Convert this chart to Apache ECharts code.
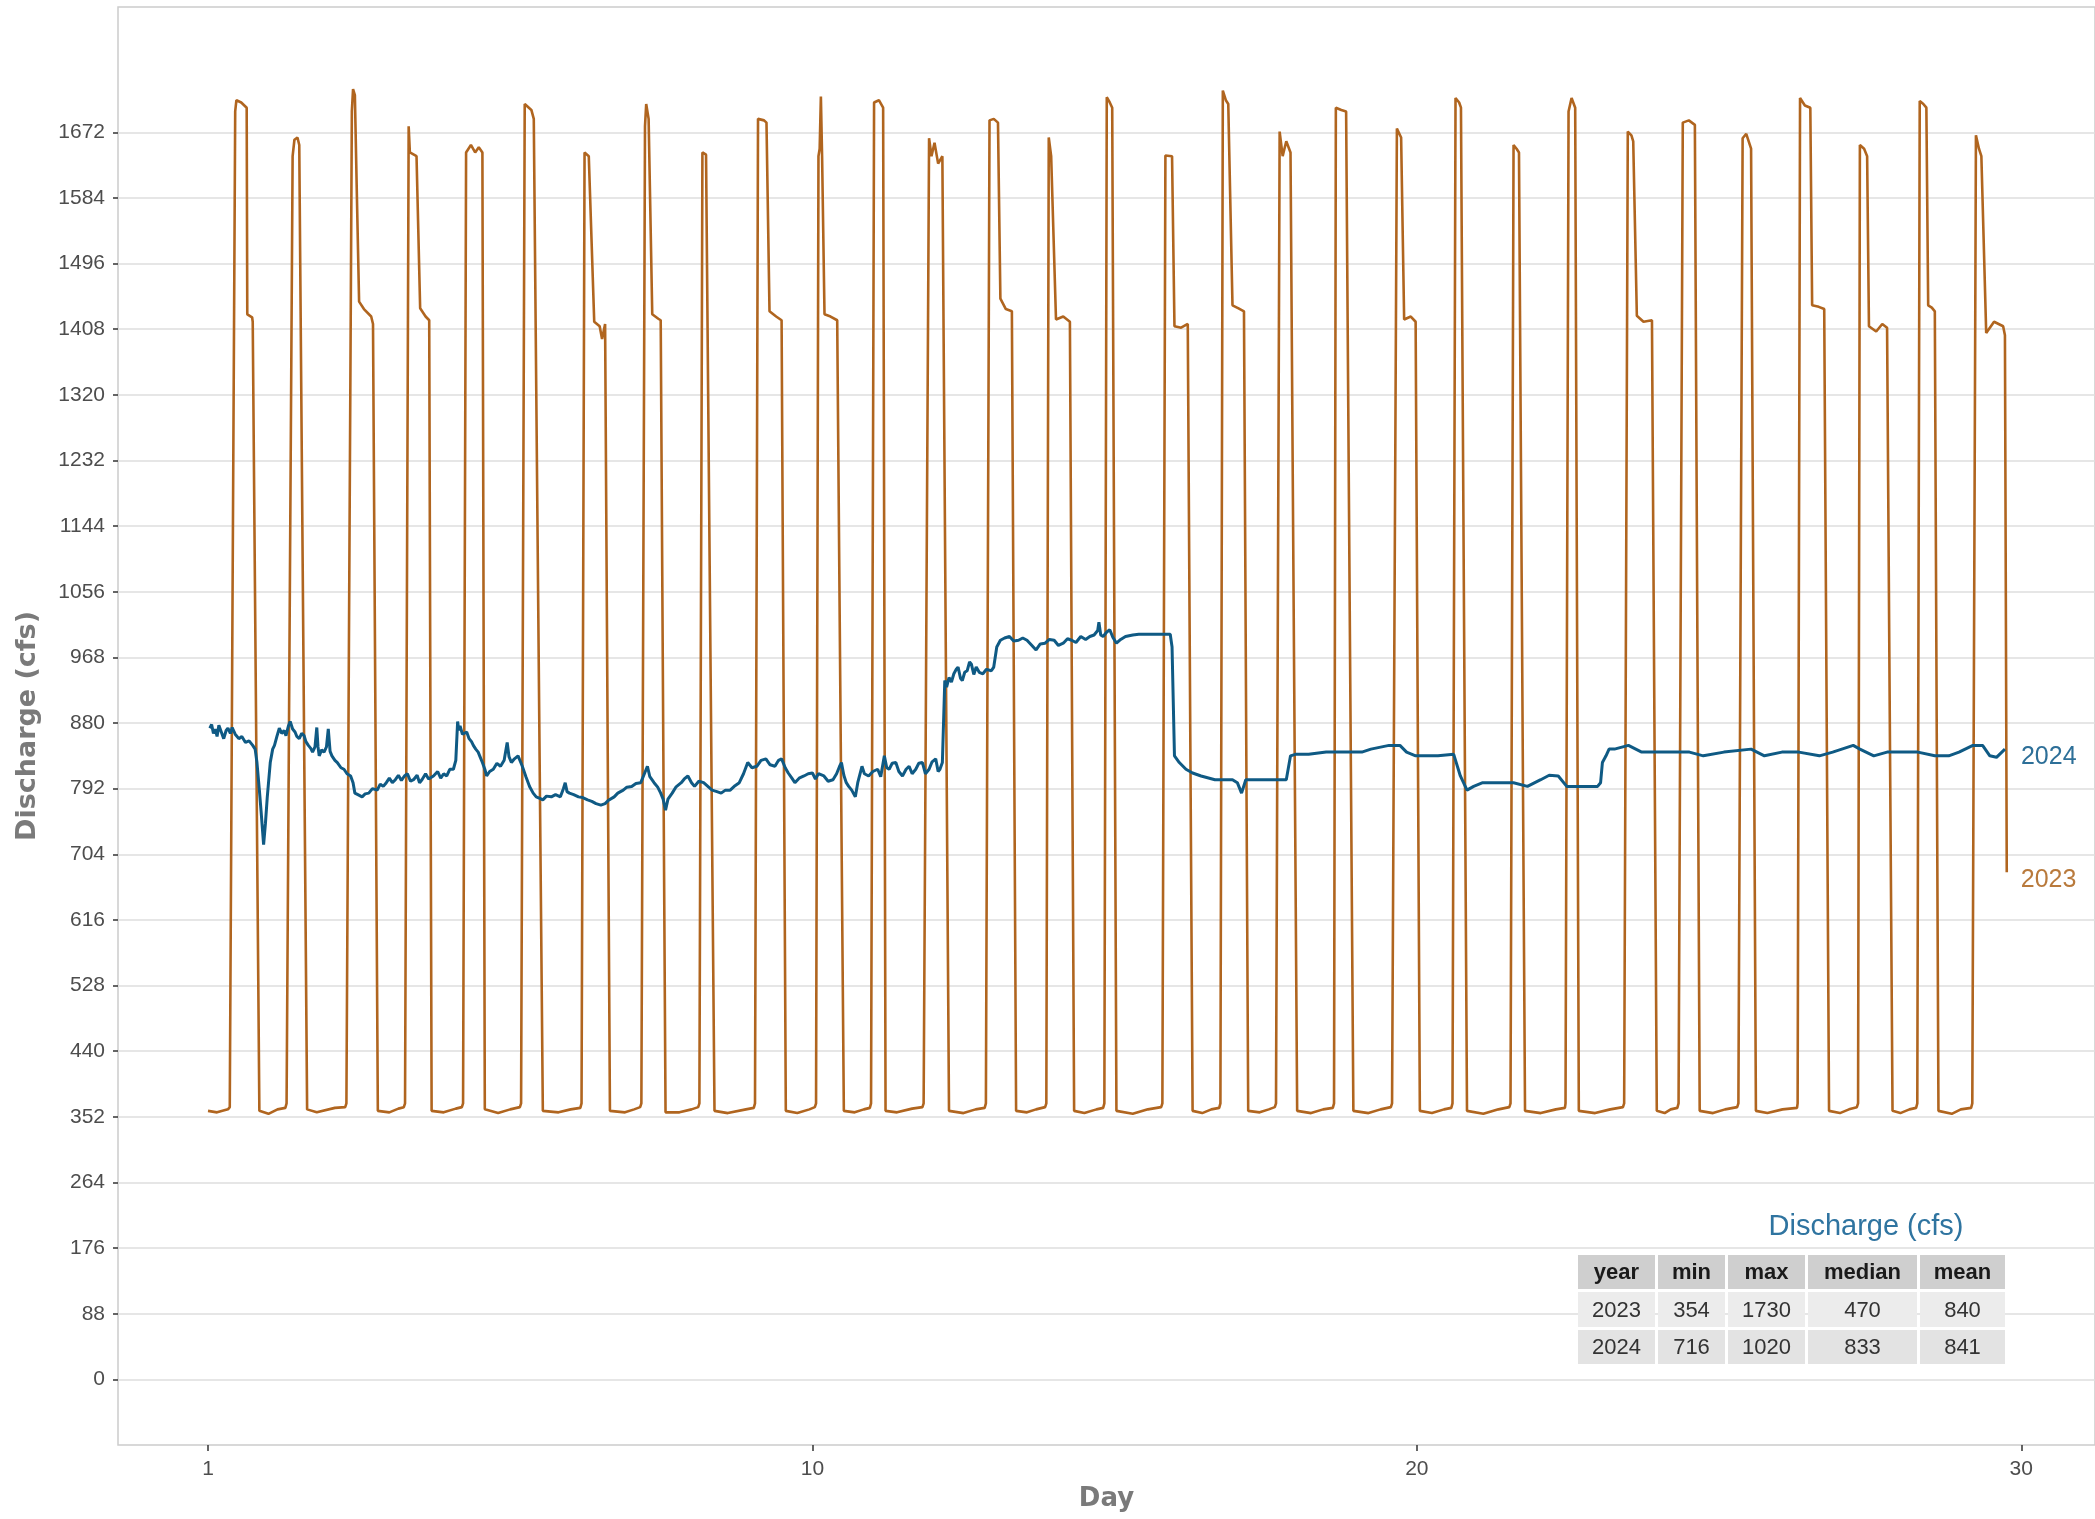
<!DOCTYPE html>
<html>
<head>
<meta charset="utf-8">
<script src="https://cdn.jsdelivr.net/npm/echarts@6/dist/echarts.min.js"></script>
<style>
html,body{margin:0;padding:0;background:#fff;}
#c{width:2095px;height:1519px;}
</style>
</head>
<body>
<div id="c"></div>
<script>
// ---------------- DATA ----------------
// x = elapsed days (tick "1" sits at 0)
const xTickValues = [0, 10, 20, 30];
const xTickLabels = ['1', '10', '20', '30'];
const yTickValues = [0, 88, 176, 264, 352, 440, 528, 616, 704, 792, 880, 968, 1056, 1144, 1232, 1320, 1408, 1496, 1584, 1672];

const seriesNames = ['2023', '2024'];

const day2023 = [
  0.00,0.15,0.33,
  0.36,0.45,0.47,0.55,0.64,0.65,0.73,0.74,0.85,
  1.00,1.15,1.28,
  1.30,1.40,1.43,1.48,1.51,1.64,
  1.80,2.10,2.27,
  2.29,2.38,2.40,2.43,2.46,2.50,2.58,2.70,2.73,2.81,
  3.00,3.15,3.24,
  3.26,3.32,3.34,3.45,3.51,3.60,3.66,3.70,
  3.90,4.10,4.20,
  4.22,4.27,4.35,4.42,4.48,4.54,4.58,
  4.80,5.00,5.16,
  5.18,5.24,5.26,5.35,5.39,5.54,
  5.80,6.00,6.16,
  6.18,6.23,6.30,6.39,6.48,6.52,6.57,6.65,
  6.90,7.05,7.15,
  7.17,7.23,7.25,7.29,7.35,7.45,7.49,7.57,
  7.80,8.00,8.11,
  8.13,8.18,8.24,8.27,8.38,
  8.60,8.90,9.03,
  9.05,9.10,9.20,9.24,9.29,9.40,9.49,9.56,
  9.75,9.95,10.04,
  10.06,10.10,10.12,10.14,10.16,10.20,10.30,10.41,10.52,
  10.70,10.85,10.95,
  10.97,11.02,11.10,11.17,11.21,
  11.40,11.65,11.82,
  11.84,11.93,11.97,12.02,12.08,12.15,12.26,
  12.50,12.70,12.85,
  12.87,12.93,13.00,13.07,13.11,13.20,13.30,13.37,
  13.55,13.70,13.85,
  13.87,13.91,13.95,14.03,14.15,14.26,14.33,
  14.50,14.70,14.81,
  14.83,14.87,14.92,14.96,15.03,
  15.30,15.55,15.77,
  15.79,15.84,15.95,15.99,16.10,16.21,16.29,
  16.45,16.60,16.73,
  16.75,16.79,16.84,16.88,16.95,17.05,17.14,17.21,
  17.40,17.55,17.65,
  17.67,17.73,17.78,17.84,17.91,18.02,
  18.25,18.45,18.61,
  18.63,18.66,18.75,18.83,18.95,
  19.20,19.40,19.57,
  19.59,19.67,19.74,19.79,19.90,19.98,20.05,
  20.25,20.45,20.57,
  20.59,20.64,20.70,20.73,20.83,
  21.10,21.35,21.53,
  21.55,21.60,21.65,21.69,21.79,
  22.05,22.30,22.45,
  22.46,22.51,22.56,22.62,22.68,
  22.95,23.20,23.41,
  23.43,23.49,23.55,23.58,23.64,23.75,23.89,23.97,
  24.10,24.20,24.31,
  24.33,24.40,24.50,24.60,24.68,
  24.90,25.10,25.30,
  25.32,25.39,25.45,25.53,25.61,
  25.80,26.05,26.29,
  26.30,26.34,26.42,26.51,26.54,26.65,26.74,26.82,
  27.00,27.15,27.28,
  27.30,27.33,27.40,27.45,27.48,27.60,27.70,27.78,27.87,
  28.00,28.15,28.26,
  28.28,28.32,28.38,28.43,28.46,28.52,28.57,28.63,
  28.85,29.00,29.17,
  29.19,29.25,29.30,29.34,29.42,29.55,29.70,29.73,29.76
];
const flow2023 = [
  360,358,362,
  365,1700,1715,1712,1705,1428,1424,1418,360,
  356,362,364,
  370,1640,1662,1665,1655,362,
  358,364,365,
  370,1700,1730,1722,1600,1445,1435,1425,1415,360,
  358,363,365,
  370,1680,1645,1640,1436,1425,1420,360,
  358,363,365,
  370,1645,1655,1645,1652,1645,362,
  357,362,365,
  370,1710,1712,1702,1690,360,
  358,362,364,
  370,1645,1640,1418,1412,1395,1415,360,
  358,362,365,
  370,1680,1710,1690,1428,1422,1420,358,
  358,362,365,
  370,1645,1642,1640,360,
  357,362,364,
  370,1690,1688,1685,1432,1425,1420,360,
  357,362,365,
  370,1640,1650,1720,1640,1428,1425,1420,360,
  358,362,364,
  370,1712,1715,1705,360,
  358,363,365,
  370,1664,1640,1658,1630,1640,360,
  357,362,364,
  370,1688,1690,1685,1449,1435,1432,360,
  358,362,365,
  370,1665,1640,1421,1425,1418,360,
  357,362,364,
  370,1719,1712,1705,360,
  356,362,365,
  370,1641,1640,1412,1410,1415,360,
  357,362,364,
  370,1728,1715,1710,1440,1436,1432,360,
  358,362,365,
  370,1673,1640,1660,1645,360,
  357,362,364,
  370,1705,1702,1700,360,
  357,362,365,
  370,1677,1665,1421,1425,1418,360,
  357,362,364,
  370,1718,1712,1705,360,
  356,362,365,
  370,1655,1650,1645,360,
  357,362,364,
  370,1700,1718,1705,360,
  357,362,365,
  370,1673,1668,1660,1426,1418,1420,360,
  357,362,364,
  370,1685,1688,1682,360,
  357,362,365,
  370,1664,1670,1650,360,
  357,362,364,
  370,1718,1708,1705,1440,1438,1435,360,
  357,362,365,
  370,1655,1650,1640,1412,1405,1415,1410,360,
  357,362,364,
  370,1714,1710,1705,1440,1437,1432,360,
  356,362,364,
  370,1668,1650,1640,1403,1418,1412,1400,680
];

const day2024 = [
  0.03,0.06,0.09,0.12,0.15,0.18,0.22,0.26,0.30,0.33,0.37,0.40,0.45,0.51,0.56,0.62,0.68,0.74,0.78,0.81,0.85,0.88,0.92,0.95,0.98,
  1.03,1.07,1.10,1.14,1.18,1.22,1.26,1.29,1.33,1.36,1.40,1.44,1.47,1.51,1.55,1.59,1.62,1.66,1.70,1.73,1.77,1.80,1.82,1.84,1.88,1.92,1.96,1.99,
  2.02,2.05,2.10,2.14,2.20,2.25,2.30,2.36,2.40,2.43,2.48,2.55,2.60,2.66,2.72,2.80,2.85,2.90,2.95,
  3.00,3.05,3.10,3.15,3.20,3.25,3.30,3.35,3.40,3.46,3.50,3.54,3.60,3.65,3.73,3.80,3.85,3.90,3.95,
  4.00,4.06,4.10,4.13,4.15,4.17,4.21,4.24,4.28,4.32,4.36,4.39,4.43,4.47,4.50,4.54,4.58,4.61,4.66,4.72,4.78,4.84,4.90,4.95,4.98,
  5.02,5.07,5.13,5.17,5.20,5.26,5.32,5.38,5.43,5.49,5.54,5.60,5.68,5.75,5.83,5.88,5.91,5.94,5.98,
  6.05,6.13,6.20,6.28,6.35,6.42,6.50,6.57,6.62,6.72,6.78,6.87,6.93,
  7.01,7.08,7.16,7.22,7.27,7.31,7.38,7.44,7.49,7.53,7.57,7.61,7.68,7.74,7.83,7.88,7.94,
  8.00,8.05,8.12,8.20,8.27,8.34,8.42,8.49,8.56,8.64,8.72,8.79,8.86,8.93,
  9.00,9.08,9.15,9.23,9.30,9.38,9.44,9.49,9.55,9.60,9.66,9.71,9.78,9.86,9.93,
  10.00,10.05,10.10,10.19,10.26,10.34,10.40,10.45,10.48,10.52,10.56,10.60,10.65,10.71,10.75,10.82,10.86,10.93,
  11.00,11.08,11.13,11.19,11.23,11.27,11.32,11.38,11.43,11.49,11.55,11.60,11.65,11.71,11.76,11.82,11.87,11.93,11.98,
  12.04,12.08,12.11,12.15,12.19,12.22,12.26,12.30,12.34,12.38,12.41,12.45,12.48,12.52,12.56,12.60,12.63,12.67,12.71,12.76,12.82,12.88,12.96,
  13.00,13.05,13.11,13.18,13.26,13.33,13.41,13.48,13.55,13.62,13.70,13.77,13.85,13.92,
  14.00,14.07,14.15,14.22,14.29,14.36,14.44,14.52,14.59,14.66,14.72,14.74,14.77,14.81,14.87,14.92,14.97,
  15.03,15.10,15.18,15.30,15.40,15.55,15.70,15.92,15.95,15.99,
  16.07,16.18,16.29,16.43,16.66,16.95,17.03,17.10,17.17,17.39,17.62,17.84,17.91,17.99,18.21,18.50,18.87,19.09,19.24,19.54,19.72,19.83,19.98,
  20.35,20.61,20.72,20.83,20.94,21.09,21.31,21.46,21.60,21.83,22.05,22.19,22.34,
  22.48,22.65,22.82,22.99,23.04,23.07,23.13,23.18,23.27,23.50,23.72,23.95,24.23,24.51,24.74,25.08,25.53,25.75,26.04,26.32,26.66,26.88,27.22,27.33,27.56,27.78,28.01,28.29,28.57,28.80,28.97,29.20,29.36,29.48,29.59,29.73
];
const flow2024 = [
  873,878,866,872,862,877,868,859,870,873,866,874,865,859,862,854,856,850,845,827,790,760,717,745,780,
  827,845,850,862,873,866,870,863,876,882,872,868,862,859,866,863,855,850,846,841,848,874,848,836,844,841,848,872,
  842,836,830,827,820,818,812,809,800,786,784,781,785,786,792,790,798,795,800,
  806,800,804,810,803,809,812,802,804,810,800,804,812,805,809,815,806,812,809,
  818,818,830,882,870,876,865,863,868,859,855,850,845,841,835,827,818,809,815,818,826,822,830,854,835,
  827,832,836,828,822,808,795,786,781,779,777,782,781,784,781,792,800,788,786,
  784,781,780,777,775,772,770,772,776,781,786,790,794,
  795,799,800,812,822,808,800,794,786,778,763,778,786,794,800,805,809,
  800,795,802,800,795,790,788,786,790,790,796,800,812,827,
  820,822,830,832,824,822,830,832,820,813,806,800,806,809,812,
  813,805,812,809,802,804,812,822,827,810,800,795,790,781,800,822,812,809,
  815,818,808,836,820,818,826,827,815,809,818,822,812,818,826,827,812,818,828,
  832,815,818,827,937,928,941,935,946,952,955,940,937,948,950,962,959,945,955,948,946,952,950,
  955,982,991,994,996,990,991,994,991,985,978,986,987,992,
  991,984,987,993,991,988,996,992,996,998,1004,1015,998,996,1002,1005,995,
  987,992,996,998,999,999,999,999,982,836,
  827,818,813,809,804,804,800,786,804,804,804,804,836,838,838,841,841,841,845,850,850,841,836,
  836,838,809,790,795,800,800,800,800,795,804,810,809,
  795,795,795,795,800,827,836,845,845,850,841,841,841,841,836,841,845,836,841,841,836,841,850,845,836,841,841,841,836,836,841,850,850,836,834,845
];

// summary table
const tableTitle = 'Discharge (cfs)';
const tableHeader = ['year', 'min', 'max', 'median', 'mean'];
const tableRow2023 = ['2023', '354', '1730', '470', '840'];
const tableRow2024 = ['2024', '716', '1020', '833', '841'];

// ---------------- CHART ----------------
const COL23 = '#b0651f';
const COL24 = '#0f5a84';
const zip = (xs, ys) => xs.map((x, i) => [x, ys[i]]);

const chart = echarts.init(document.getElementById('c'), null, {renderer: 'canvas'});

// table geometry (pixels)
const colEdges = [[1578,1655],[1658,1725],[1728,1805],[1808,1917],[1920,2005]];
const rowEdges = [[1255,1289],[1292,1327],[1330,1364]];
const rowFills = ['#cfcfcf', '#ececec', '#e3e3e3'];
const rows = [tableHeader, tableRow2023, tableRow2024];
const graphics = [];
rows.forEach((r, ri) => {
  r.forEach((txt, ci) => {
    const [x0, x1] = colEdges[ci];
    const [y0, y1] = rowEdges[ri];
    graphics.push({type: 'rect', shape: {x: x0, y: y0, width: x1 - x0, height: y1 - y0}, style: {fill: rowFills[ri]}, z: 10});
    graphics.push({type: 'text', x: (x0 + x1) / 2, y: (y0 + y1) / 2 + 1,
      style: {text: txt, fill: ri === 0 ? '#1a1a1a' : '#333333', fontSize: 22,
        fontWeight: ri === 0 ? 'bold' : 'normal', fontFamily: 'Liberation Sans, Arial, sans-serif',
        align: 'center', verticalAlign: 'middle'}, z: 11});
  });
});
graphics.push({type: 'text', x: 1866, y: 1227,
  style: {text: tableTitle, fill: '#2f74a0', fontSize: 29, fontFamily: 'Liberation Sans, Arial, sans-serif',
    align: 'center', verticalAlign: 'middle'}, z: 11});

const option = {
  animation: false,
  backgroundColor: '#ffffff',
  grid: {left: 118, right: 0, top: 7, bottom: 74, show: true, borderColor: '#cccccc', borderWidth: 1.5,
    backgroundColor: 'transparent', containLabel: false, outerBoundsMode: 'none'},
  xAxis: {
    type: 'value', min: -1.489, max: 31.22,
    splitLine: {show: false},
    axisLine: {show: false, onZero: false},
    axisTick: {show: true, customValues: xTickValues, length: 6, lineStyle: {color: '#333333', width: 1.5}},
    axisLabel: {customValues: xTickValues, fontSize: 21, color: '#4d4d4d', margin: 14,
      fontFamily: 'Liberation Sans, Arial, sans-serif',
      formatter: (v) => { const i = xTickValues.indexOf(v); return i >= 0 ? xTickLabels[i] : ''; }},
    name: 'Day', nameLocation: 'middle', nameGap: 41,
    nameTextStyle: {fontFamily: 'DejaVu Sans', fontWeight: 'bold', fontSize: 26, color: '#7a7a7a'}
  },
  yAxis: {
    type: 'value', min: -88, max: 1840, interval: 88,
    axisLine: {show: false, onZero: false},
    axisTick: {show: true, customValues: yTickValues, length: 5, lineStyle: {color: '#333333', width: 1.5}},
    axisLabel: {customValues: yTickValues, fontSize: 21, color: '#4d4d4d', margin: 13,
      fontFamily: 'Liberation Sans, Arial, sans-serif',
      formatter: (v) => (v < 0 || v > 1672) ? '' : String(v)},
    splitLine: {show: true, lineStyle: {color: '#dedede', width: 1.5}},
    name: 'Discharge (cfs)', nameLocation: 'middle', nameGap: 77, nameRotate: 90,
    nameTextStyle: {fontFamily: 'DejaVu Sans', fontWeight: 'bold', fontSize: 27, color: '#7a7a7a'}
  },
  series: [
    {name: seriesNames[0], type: 'line', data: zip(day2023, flow2023), showSymbol: false, symbol: 'none',
      lineStyle: {color: COL23, width: 2.6}, itemStyle: {color: COL23}, z: 2,
      endLabel: {show: true, formatter: '{a}', color: '#b97a3c', fontSize: 25, distance: 14, offset: [0, 8],
        fontFamily: 'Liberation Sans, Arial, sans-serif'}},
    {name: seriesNames[1], type: 'line', data: zip(day2024, flow2024), showSymbol: false, symbol: 'none',
      lineStyle: {color: COL24, width: 3}, itemStyle: {color: COL24}, z: 3,
      endLabel: {show: true, formatter: '{a}', color: '#2d6f98', fontSize: 25, distance: 16, offset: [0, 8],
        fontFamily: 'Liberation Sans, Arial, sans-serif'}}
  ],
  graphic: graphics
};
chart.setOption(option);
</script>
</body>
</html>
